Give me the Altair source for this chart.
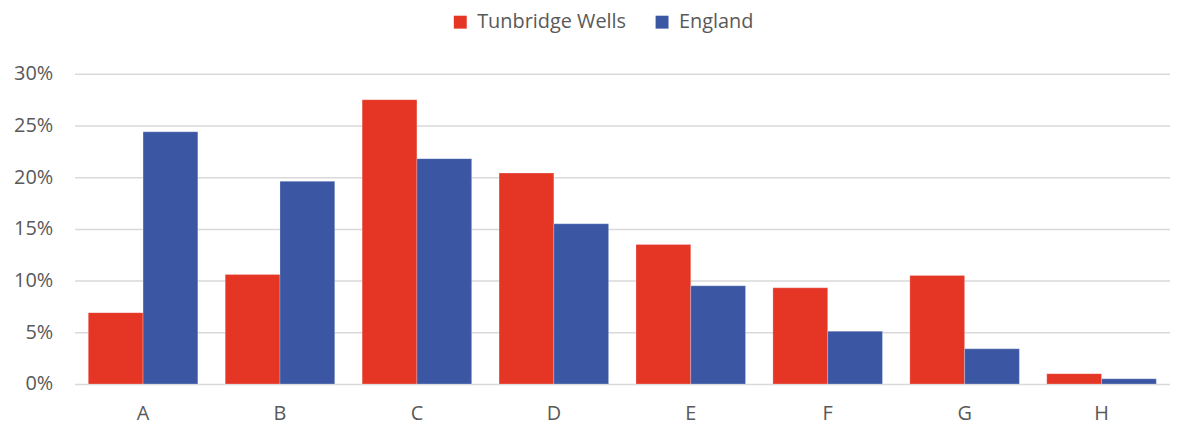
import altair as alt
import pandas as pd

categories = ["A", "B", "C", "D", "E", "F", "G", "H"]
series_names = ["Tunbridge Wells", "England"]
tunbridge = [6.9, 10.6, 27.5, 20.4, 13.5, 9.3, 10.5, 1.0]
england = [24.4, 19.6, 21.8, 15.5, 9.5, 5.1, 3.4, 0.5]
colors = ["#E43525", "#3B57A4"]

rows = []
for c, t, e in zip(categories, tunbridge, england):
    rows.append({"cat": c, "series": series_names[0], "value": t / 100})
    rows.append({"cat": c, "series": series_names[1], "value": e / 100})
df = pd.DataFrame(rows)

font = "Open Sans"

chart = alt.Chart(df).mark_bar(stroke="white", strokeWidth=0.6, strokeOpacity=0.4).encode(
    x=alt.X("cat:N", sort=categories, title=None,
            scale=alt.Scale(paddingInner=0.2, paddingOuter=0.1),
            axis=alt.Axis(labelAngle=0, domain=False, ticks=False, labelPadding=20,
                          labelFontSize=20, labelColor="#595959", labelFont=font)),
    xOffset=alt.XOffset("series:N", sort=series_names, scale=alt.Scale(paddingInner=0, paddingOuter=0)),
    y=alt.Y("value:Q", title=None,
            scale=alt.Scale(domain=[0, 0.3]),
            axis=alt.Axis(format=".0%", values=[0, 0.05, 0.1, 0.15, 0.2, 0.25, 0.3],
                          domain=False, ticks=False, labelPadding=22,
                          labelFontSize=20, labelColor="#595959", labelFont=font,
                          gridColor="#d9d9d9", gridWidth=1.5)),
    color=alt.Color("series:N", sort=series_names,
                    scale=alt.Scale(domain=series_names, range=colors),
                    legend=alt.Legend(title=None, orient="none", direction="horizontal",
                                      legendX=378, legendY=-62,
                                      symbolType="square", symbolSize=169, symbolStrokeWidth=0,
                                      labelFontSize=20, labelColor="#595959", labelFont=font,
                                      labelLimit=400, columnPadding=26, labelOffset=7)),
).properties(
    width=1102, height=312,
    autosize=alt.AutoSizeParams(type="none"),
    padding={"left": 67, "top": 65, "right": 0, "bottom": 40},
).configure_view(stroke=None)

chart.save("out.html", embed_options={"renderer": "svg", "actions": False})
